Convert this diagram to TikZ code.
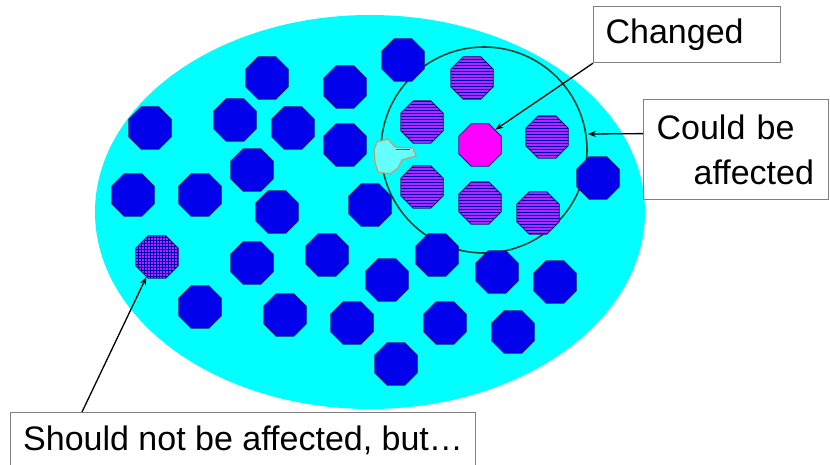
\documentclass[tikz,border=0pt]{standalone}
\usepackage{fontspec}
\setmainfont{Liberation Sans}
\usetikzlibrary{arrows.meta,shapes.geometric,patterns}
\definecolor{poolcyan}{RGB}{0,255,255}
\definecolor{cellblue}{RGB}{0,0,235}
\definecolor{celledge}{RGB}{25,25,120}
\definecolor{cellpurple}{RGB}{165,45,245}
\definecolor{changedpink}{RGB}{255,0,255}
\definecolor{zonegreen}{RGB}{10,70,50}
\definecolor{handtan}{RGB}{195,160,110}
\tikzset{
  cell/.style={regular polygon, regular polygon sides=8, minimum size=46pt,
    inner sep=0pt, draw=celledge, line width=0.8pt},
  bluecell/.style={cell, fill=cellblue},
  stripecell/.style={cell, preaction={fill=cellpurple},
    pattern=horizontal lines, pattern color=cellblue!80!black},
  gridcell/.style={cell, preaction={fill=cellpurple},
    pattern=grid, pattern color=cellblue!80!black},
  lbl/.style={draw=gray, line width=1.2pt, fill=white, anchor=north west,
    align=left, inner ysep=0pt, inner xsep=12pt,
    font=\fontsize{34}{45}\selectfont},
  ptr/.style={-{Stealth[length=8pt,width=6pt]}, line width=1.3pt, black}
}

\begin{document}
\begin{tikzpicture}[x=1pt, y=-1pt]
  \useasboundingbox (0,0) rectangle (830,465);

  % Pool of cells
  \fill[poolcyan] (370,212) ellipse [x radius=275, y radius=197];

  % Zone that could be affected
  \node[circle, draw=zonegreen, line width=1.6pt, minimum size=206pt,
    inner sep=0pt] (zone) at (484,150) {};

  % Untouched cells
  \foreach \x/\y [count=\i] in {267/78, 345/87, 403/60, 150/128, 235/120,
      293/128, 345/145, 252/170, 133/195, 200/195, 277/212, 370/205,
      598/178, 252/263, 327/255, 437/255, 497/272, 555/282, 387/280,
      200/307, 285/315, 352/323, 445/323, 513/332, 396/364}
    \node[bluecell] (b\i) at (\x,\y) {};

  % Cells near the change
  \foreach \x/\y [count=\i] in {472/78, 422/122, 547/137, 422/187,
      480/203, 538/213}
    \node[stripecell] (s\i) at (\x,\y) {};

  % The changed cell
  \node[cell, fill=changedpink] (chg) at (480,145) {};

  % Far cell, affected anyway
  \node[gridcell] (grid) at (157,257) {};

  % Hand cursor
  \draw[handtan, fill=poolcyan!60!white, line width=1.3pt, line join=round]
    (377,142) -- (388,139) -- (395,147) -- (413,148) -- (416,156)
    -- (402,160) -- (398,168) -- (390,174) -- (378,172) -- (375,163)
    -- (374,150) -- cycle;
  \draw[black!70, line width=0.8pt] (396,149) -- (410,149);

  % Labels
  \node[lbl, text width=163pt, minimum height=56pt] (changed)
    at (593,6) {Changed};
  \node[lbl, inner xsep=13pt, text width=159pt, minimum height=100pt] (could)
    at (643,99) {Could be\\\hspace*{37pt}affected};
  \node[lbl, inner xsep=10pt, minimum width=465pt, minimum height=56pt] (should)
    at (10,412) {Should not be affected, but\ldots};

  % Pointers
  \draw[ptr] (changed.south west) -- (chg.north east);
  \draw[ptr] ([yshift=16pt]could.west) -- ([yshift=16pt]zone.east);
  \draw[ptr] ([xshift=72pt]should.north west) -- (grid.242);

\end{tikzpicture}
\end{document}
